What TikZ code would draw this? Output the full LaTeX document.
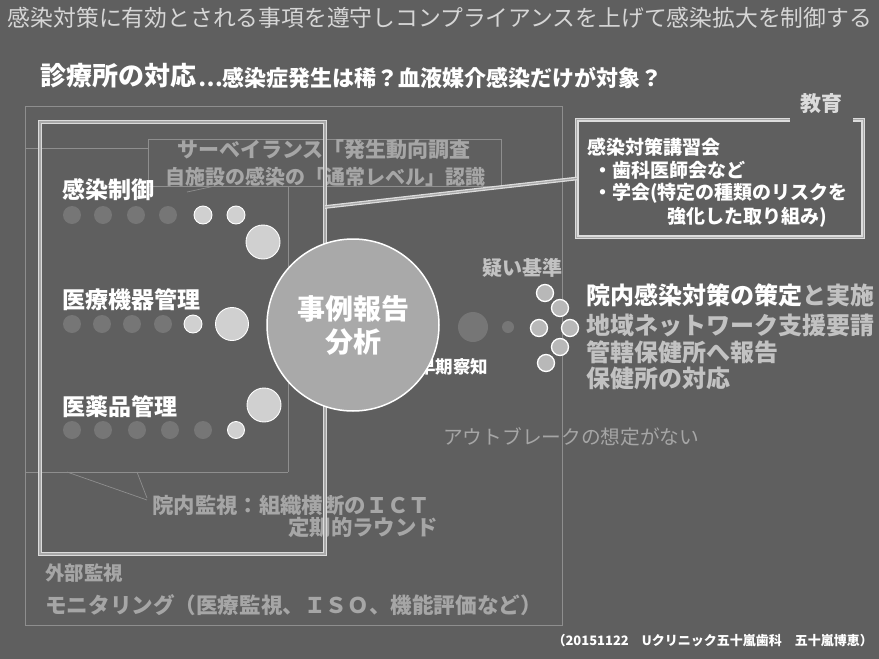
\documentclass[tikz,border=0pt]{standalone}
\usepackage{fontspec}
\setmainfont{Noto Sans CJK JP}
\definecolor{bgc}{HTML}{5F5F5F}
\definecolor{titlec}{HTML}{D6D6D6}
\definecolor{greyt}{HTML}{C2C2C2}
\definecolor{faintt}{HTML}{A6A6A6}
\definecolor{faintl}{HTML}{8E8E8E}
\definecolor{framec}{HTML}{DCDCDC}
\definecolor{framein}{HTML}{A8A8A8}
\definecolor{circc}{HTML}{A9A9A9}
\definecolor{lightd}{HTML}{D0D0D0}
\definecolor{darkd}{HTML}{767676}
\definecolor{clusterd}{HTML}{B8B8B8}
\newcommand\fsz[1]{\fontsize{#1}{#1}\selectfont}
\begin{document}
\begin{tikzpicture}[x=1pt,y=-1pt,
  txt/.style={inner sep=0pt, anchor=west},
  faintline/.style={draw=faintl, line width=0.7pt},
  dframe/.style={draw=framec, line width=1.3pt, double=framein, double distance=1.1pt},
  ddot/.style={circle, inner sep=0pt, fill=darkd, minimum size=#1},
  ldot/.style={circle, inner sep=0pt, fill=lightd, draw=white, line width=0.9pt, minimum size=#1},
  cdot/.style={circle, inner sep=0pt, fill=clusterd, draw=white, line width=1.3pt, minimum size=17pt}]
\path[use as bounding box] (0,0) rectangle (879,659);
\fill[bgc] (0,0) rectangle (879,659);

% faint structure lines
\draw[faintline] (25,106) rectangle (562,625);
\draw[faintline] (25,148) -- (148,148);
\draw[faintline] (148,139) rectangle (501,186);
\draw[faintline] (187,192) -- (215,186);
\draw[faintline] (288,186) -- (288,472);
\draw[faintline] (25,472) -- (288,472);
\draw[faintline] (67,472) -- (147,500);
\draw[faintline] (137,472) -- (147,498);

% title and subtitle
\node[txt, anchor=center, text=titlec] (title) at (440,18) {\fsz{22.8}感染対策に有効とされる事項を遵守しコンプライアンスを上げて感染拡大を制御する};
\node[txt, text=white] (sub1) at (40,76) {\fsz{26}\bfseries 診療所の対応};
\node[txt, text=white] (sub2) at (198,78) {\fsz{22}\bfseries …感染症発生は稀？血液媒介感染だけが対象？};

% faint texts (behind frame)
\node[txt, text=faintt] (surv1) at (177,150) {\fsz{21}\bfseries サーベイランス「発生動向調査};
\node[txt, text=faintt] (surv2) at (165,177) {\fsz{20}\bfseries 自施設の感染の「通常レベル」認識};
\node[txt, text=faintt] (ict1) at (152,505) {\fsz{21.4}\bfseries 院内監視：組織横断のＩＣＴ};
\node[txt, text=faintt] (ict2) at (288,527) {\fsz{21.4}\bfseries 定期的ラウンド};
\node[txt, text=faintt] (ext1) at (45,573) {\fsz{19.5}\bfseries 外部監視};
\node[txt, text=faintt] (ext2) at (45,605) {\fsz{21.6}\bfseries モニタリング（医療監視、ＩＳＯ、機能評価など）};

% thick management frame
\node[inner sep=0pt, minimum width=285, minimum height=432, dframe] (mgmt) at (182.5,338) {};

% education box
\node[inner sep=0pt, minimum width=286, minimum height=117] (edu) at (720,178.5) {};
\draw[dframe] ([xshift=70pt]edu.north) -- (edu.north west) -- (edu.south west) -- (edu.south east) -- (edu.north east) -- ([xshift=-10pt]edu.north east);
\node[txt, anchor=center, text=framec] (edulab) at (821,104) {\fsz{21}\bfseries 教育};
\node[txt, text=white] (e1) at (587,147) {\fsz{19}\bfseries 感染対策講習会};
\node[txt, text=white] (e2) at (593,170) {\fsz{19}\bfseries ・歯科医師会など};
\node[txt, text=white] (e3) at (593,193) {\fsz{19}\bfseries ・学会(特定の種類のリスクを};
\node[txt, text=white] (e4) at (667,217) {\fsz{19}\bfseries 強化した取り組み)};
\coordinate (lnA) at (325,207);
\draw[dframe] (lnA) -- (edu.west);

% left labels
\node[txt, text=white] (lab1) at (62,190) {\fsz{23}\bfseries 感染制御};
\node[txt, text=white] (lab2) at (62,300) {\fsz{23}\bfseries 医療機器管理};
\node[txt, text=white] (lab3) at (62,407) {\fsz{23}\bfseries 医薬品管理};

% dots row 1
\node[ddot=18pt] (a1) at (72,215) {};
\node[ddot=18pt] (a2) at (103,215) {};
\node[ddot=18pt] (a3) at (136,215) {};
\node[ddot=18pt] (a4) at (168,215) {};
\node[ldot=18pt] (a5) at (203,215) {};
\node[ldot=18pt] (a6) at (236,215) {};
\node[ldot=34pt] (a7) at (263,242) {};
% dots row 2
\node[ddot=18pt] (b1) at (72,324) {};
\node[ddot=18pt] (b2) at (102,324) {};
\node[ddot=18pt] (b3) at (132,324) {};
\node[ddot=18pt] (b4) at (163,324) {};
\node[ldot=18pt] (b5) at (193,324) {};
\node[ldot=33pt] (b6) at (232,324) {};
% dots row 3
\node[ddot=18pt] (c1) at (72,430) {};
\node[ddot=18pt] (c2) at (103,430) {};
\node[ddot=18pt] (c3) at (137,430) {};
\node[ddot=18pt] (c4) at (170,430) {};
\node[ddot=18pt] (c5) at (203,430) {};
\node[ldot=17pt] (c6) at (236,430) {};
\node[ldot=34pt] (c7) at (264,405) {};

% early detection label, partly under the circle
\node[txt, text=white] (early) at (418,367) {\fsz{17.5}\bfseries 早期察知};

% central circle
\node[circle, inner sep=0pt, minimum size=172pt, fill=circc, draw=white, line width=1.5pt, align=center, text=white, font=\fontsize{28}{33}\selectfont\bfseries] (case) at (353,325) {事例報告\\分析};

% right side
\node[txt, text=greyt] (doubt) at (482,268) {\fsz{20}\bfseries 疑い基準};
\node[ddot=30pt] (r1) at (473,327) {};
\node[ddot=12pt] (r2) at (508,327) {};
\node[cdot] (k1) at (545,293) {};
\node[cdot] (k2) at (560,308) {};
\node[cdot] (k3) at (539,328) {};
\node[cdot] (k4) at (570,328) {};
\node[cdot] (k5) at (560,347) {};
\node[cdot] (k6) at (546,363) {};

\node[txt, text=white] (p1) at (586,295) {\fsz{24}\bfseries 院内感染対策の策定\textcolor{greyt}{と実施}};
\node[txt, text=greyt] (p2) at (586,325) {\fsz{24}\bfseries 地域ネットワーク支援要請};
\node[txt, text=greyt] (p3) at (586,352) {\fsz{24}\bfseries 管轄保健所へ報告};
\node[txt, text=greyt] (p4) at (586,378) {\fsz{24}\bfseries 保健所の対応};

\node[txt, text=faintt] (noout) at (443,437) {\fsz{19.7}アウトブレークの想定がない};

% footer
\node[txt, anchor=east, text=white] (foot) at (873,641) {\fsz{13}\bfseries （20151122　Uクリニック五十嵐歯科　五十嵐博恵）};
\end{tikzpicture}
\end{document}
